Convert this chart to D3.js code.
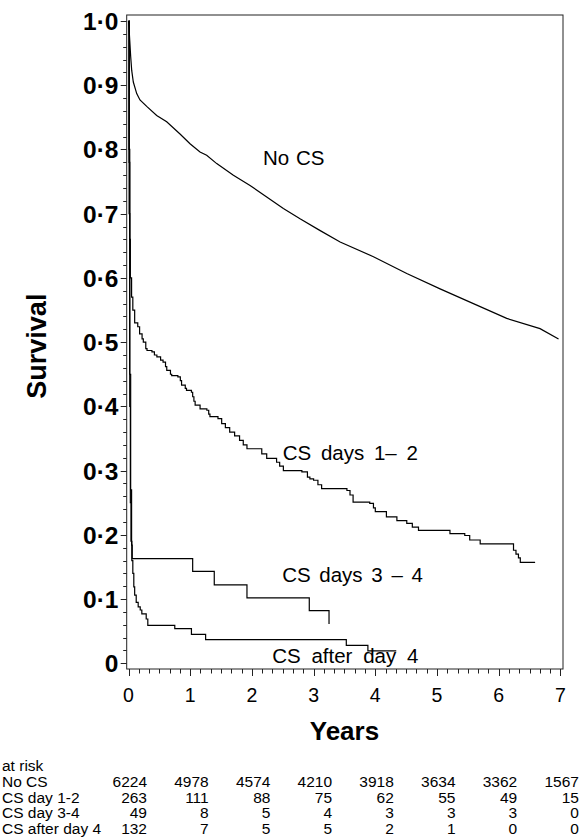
<!DOCTYPE html>
<html>
<head>
<meta charset="utf-8">
<script src="https://cdnjs.cloudflare.com/ajax/libs/d3/7.8.5/d3.min.js"></script>
<style>
  html, body { margin: 0; padding: 0; background: #fff; }
  svg { display: block; font-family: "Liberation Sans", Arial, Helvetica, sans-serif; }
</style>
</head>
<body>
<main></main>
<script>
// tick values and labels
var yearTicks = [0, 1, 2, 3, 4, 5, 6, 7];
var survivalTicks = [0, 0.1, 0.2, 0.3, 0.4, 0.5, 0.6, 0.7, 0.8, 0.9, 1.0];
var survivalLabels = ["0", "0·1", "0·2", "0·3", "0·4", "0·5", "0·6", "0·7", "0·8", "0·9", "1·0"];

// survival curves, [years, survival]
var noCS = [[0, 1], [0.008, 0.99], [0.02, 0.97], [0.035, 0.945], [0.052, 0.923], [0.078, 0.905],
    [0.133, 0.887], [0.186, 0.877], [0.295, 0.867], [0.457, 0.853], [0.619, 0.843], [0.835, 0.824],
    [0.997, 0.809], [1.159, 0.796], [1.267, 0.791], [1.43, 0.778], [1.70, 0.760], [1.97, 0.744],
    [2.24, 0.726], [2.51, 0.708], [2.78, 0.692], [3.1, 0.674], [3.43, 0.656], [3.97, 0.633],
    [4.51, 0.607], [5.05, 0.583], [5.59, 0.560], [6.13, 0.537], [6.67, 0.521], [6.97, 0.505]];
var csDay12 = [[0, 1], [0.01, 0.8], [0.02, 0.66], [0.03, 0.6], [0.05, 0.57], [0.07, 0.55], [0.1, 0.53],
    [0.15, 0.524], [0.18, 0.513], [0.22, 0.505], [0.24, 0.5], [0.28, 0.49], [0.3, 0.487], [0.38, 0.485],
    [0.42, 0.48], [0.46, 0.477], [0.52, 0.472], [0.56, 0.469], [0.6, 0.462], [0.62, 0.456], [0.68, 0.45],
    [0.7, 0.448], [0.8, 0.446], [0.84, 0.44], [0.86, 0.433], [0.92, 0.428], [0.94, 0.425], [1.02, 0.422],
    [1.04, 0.415], [1.06, 0.408], [1.08, 0.402], [1.16, 0.396], [1.27, 0.394], [1.3, 0.388], [1.32, 0.384],
    [1.45, 0.381], [1.51, 0.373], [1.57, 0.367], [1.64, 0.36], [1.72, 0.354], [1.8, 0.347], [1.86, 0.34],
    [1.92, 0.334], [2.16, 0.326], [2.24, 0.319], [2.4, 0.313], [2.45, 0.307], [2.51, 0.3], [2.81, 0.298],
    [2.9, 0.29], [2.94, 0.287], [3.0, 0.285], [3.07, 0.278], [3.13, 0.272], [3.54, 0.269], [3.59, 0.262],
    [3.64, 0.251], [3.91, 0.249], [3.97, 0.242], [4.0, 0.236], [4.18, 0.228], [4.35, 0.222], [4.51, 0.218],
    [4.6, 0.212], [4.7, 0.207], [5.21, 0.202], [5.45, 0.199], [5.53, 0.192], [5.7, 0.186], [6.24, 0.176],
    [6.28, 0.17], [6.32, 0.164], [6.35, 0.157], [6.59, 0.157]];
var csDay34 = [[0, 1], [0.01, 0.78], [0.02, 0.45], [0.035, 0.27], [0.05, 0.184], [0.06, 0.163],
    [1.04, 0.143], [1.39, 0.122], [1.92, 0.102], [2.93, 0.082], [3.25, 0.061]];
var csAfterDay4 = [[0, 1], [0.01, 0.7], [0.02, 0.4], [0.03, 0.25], [0.04, 0.19], [0.054, 0.16],
    [0.07, 0.14], [0.086, 0.119], [0.10, 0.106], [0.125, 0.095], [0.157, 0.088], [0.19, 0.083],
    [0.216, 0.077], [0.287, 0.069], [0.313, 0.059], [0.75, 0.054], [1.02, 0.045], [1.25, 0.037],
    [3.53, 0.028], [3.88, 0.0195], [4.34, 0.0195]];
var curveNames = ["No CS", "CS days 1\u2013 2", "CS days 3 \u2013 4", "CS after day 4"];

// numbers at risk
var atRiskNames = ["No CS", "CS day 1-2", "CS day 3-4", "CS after day 4"];
var atRiskNoCS = [6224, 4978, 4574, 4210, 3918, 3634, 3362, 1567];
var atRiskDay12 = [263, 111, 88, 75, 62, 55, 49, 15];
var atRiskDay34 = [49, 8, 5, 4, 3, 3, 3, 0];
var atRiskAfter4 = [132, 7, 5, 5, 2, 1, 0, 0];

(function () {

    var width = 580,
        height = 838,
        frame = {left: 126.7, right: 563, top: 15, bottom: 669};

    var svg = d3.select("main")
        .append("svg")
        .attr("width", width)
        .attr("height", height);

    var x = d3.scaleLinear().domain([0, 7]).range([128.5, 560.4]),
        y = d3.scaleLinear().domain([0, 1]).range([663.3, 21]);

    // frame
    svg.append("rect")
        .attr("x", frame.left)
        .attr("y", frame.top)
        .attr("width", frame.right - frame.left)
        .attr("height", frame.bottom - frame.top)
        .attr("fill", "none")
        .attr("stroke", "#222")
        .attr("stroke-width", 1);

    // y axis ticks
    var yMinor = d3.range(0, 51).map(function (i) { return i / 50; });
    svg.append("g")
        .selectAll("line")
        .data(yMinor)
        .join("line")
        .attr("x1", function (d, i) { return frame.left - (i % 5 === 0 ? 6 : 3.5); })
        .attr("x2", frame.left)
        .attr("y1", function (d) { return Math.round(y(d)) + 0.5; })
        .attr("y2", function (d) { return Math.round(y(d)) + 0.5; })
        .attr("stroke", "#222");

    svg.append("g")
        .selectAll("text")
        .data(survivalTicks)
        .join("text")
        .attr("x", 118.5)
        .attr("y", function (d) { return y(d) + 9; })
        .attr("text-anchor", "end")
        .attr("font-size", 24.5)
        .attr("font-weight", "bold")
        .text(function (d, i) { return survivalLabels[i]; });

    svg.append("text")
        .attr("transform", "translate(46," + (y(0.5) + 4) + ") rotate(-90)")
        .attr("text-anchor", "middle")
        .attr("font-size", 27)
        .attr("font-weight", "bold")
        .text("Survival");

    // x axis ticks
    var xMinor = d3.range(0, 43).map(function (i) { return i / 6; });
    svg.append("g")
        .selectAll("line")
        .data(xMinor)
        .join("line")
        .attr("x1", function (d) { return Math.round(x(d)) + 0.5; })
        .attr("x2", function (d) { return Math.round(x(d)) + 0.5; })
        .attr("y1", frame.bottom)
        .attr("y2", function (d, i) { return frame.bottom + (i % 6 === 0 ? 7 : 4.5); })
        .attr("stroke", "#222");

    svg.append("g")
        .selectAll("text")
        .data(yearTicks)
        .join("text")
        .attr("x", function (d) { return x(d); })
        .attr("y", 702)
        .attr("text-anchor", "middle")
        .attr("font-size", 19.5)
        .text(function (d) { return d; });

    svg.append("text")
        .attr("x", x(3.5))
        .attr("y", 740)
        .attr("text-anchor", "middle")
        .attr("font-size", 26)
        .attr("font-weight", "bold")
        .text("Years");

    // curves
    var step = d3.line()
        .x(function (d) { return x(d[0]); })
        .y(function (d) { return y(d[1]); })
        .curve(d3.curveStepAfter);
    var smooth = d3.line()
        .x(function (d) { return x(d[0]); })
        .y(function (d) { return y(d[1]); });

    svg.append("path")
        .attr("d", smooth(noCS))
        .attr("fill", "none")
        .attr("stroke", "#000")
        .attr("stroke-width", 1.2);

    [csDay12, csDay34, csAfterDay4].forEach(function (series) {
        svg.append("path")
            .attr("d", step(series))
            .attr("fill", "none")
            .attr("stroke", "#000")
            .attr("stroke-width", 1.2);
    });

    // curve labels
    var labelAt = [[2.18, 0.776], [2.5, 0.316], [2.49, 0.127], [2.33, 0.0005]],
        labelGap = [1, 4, 3, 5];
    svg.append("g")
        .selectAll("text")
        .data(curveNames)
        .join("text")
        .attr("x", function (d, i) { return x(labelAt[i][0]); })
        .attr("y", function (d, i) { return y(labelAt[i][1]); })
        .attr("font-size", 20.5)
        .attr("word-spacing", function (d, i) { return labelGap[i]; })
        .text(function (d) { return d; });

    // numbers at risk table
    var table = svg.append("g").attr("font-size", 15.5);
    table.append("text")
        .attr("x", 2)
        .attr("y", 771)
        .text("at risk");

    [atRiskNoCS, atRiskDay12, atRiskDay34, atRiskAfter4].forEach(function (row, r) {
        var rowY = 787 + r * 15.7;
        table.append("text")
            .attr("x", 2)
            .attr("y", rowY)
            .text(atRiskNames[r]);
        table.selectAll(null)
            .data(row)
            .join("text")
            .attr("x", function (d, i) { return x(yearTicks[i]) + 18.5; })
            .attr("y", rowY)
            .attr("text-anchor", "end")
            .text(function (d) { return d; });
    });

})();
</script>
</body>
</html>
